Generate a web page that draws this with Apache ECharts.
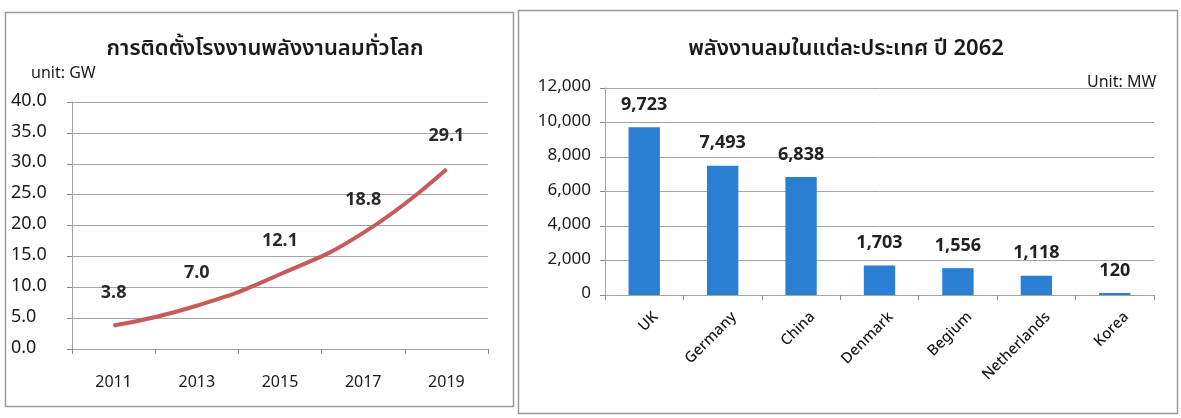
<!DOCTYPE html>
<html>
<head>
<meta charset="utf-8">
<script src="https://cdn.jsdelivr.net/npm/echarts@6/dist/echarts.min.js"></script>
<style>
html,body{margin:0;padding:0;background:#fff;}
#chart{width:1181px;height:418px;}
</style>
</head>
<body>
<div id="chart"></div>
<script>
// Left chart data (GW)
const years = ['2011', '2013', '2015', '2017', '2019'];
const installedGW = [3.8, 7.0, 12.1, 18.8, 29.1];
const gwTicks = ['0.0', '5.0', '10.0', '15.0', '20.0', '25.0', '30.0', '35.0', '40.0'];

// Right chart data (MW)
const countries = ['UK', 'Germany', 'China', 'Denmark', 'Begium', 'Netherlands', 'Korea'];
const countryMW = [9723, 7493, 6838, 1703, 1556, 1118, 120];

const FONT = '"Noto Sans Thai", "Leelawadee UI", Tahoma, "Open Sans", "Noto Sans", sans-serif';
const chart = echarts.init(document.getElementById('chart'), null, {renderer: 'canvas'});

const gridLine = {show: true, lineStyle: {color: '#a3a3a3', width: 1}};
const axisLine = {show: true, lineStyle: {color: '#a3a3a3', width: 1}};

chart.setOption({
  backgroundColor: '#ffffff',
  textStyle: {fontFamily: FONT},
  animation: false,
  graphic: [
    {type: 'rect', shape: {x: 5.5, y: 12.5, width: 508, height: 394}, style: {fill: 'none', stroke: '#9a9a9a', lineWidth: 1.5}, z: 0},
    {type: 'rect', shape: {x: 518.5, y: 10.5, width: 659, height: 403}, style: {fill: 'none', stroke: '#9a9a9a', lineWidth: 1.5}, z: 0}
  ],
  title: [
    {text: 'การติดตั้งโรงงานพลังงานลมทั่วโลก', left: 260, top: 35, textAlign: 'center',
     textStyle: {fontFamily: FONT, fontSize: 22, fontWeight: 600, color: '#1a1a1a'}},
    {text: 'unit: GW', left: 26, top: 62,
     textStyle: {fontFamily: FONT, fontSize: 16, fontWeight: 'normal', color: '#1a1a1a'}},
    {text: 'พลังงานลมในแต่ละประเทศ ปี 2062', left: 841, top: 35, textAlign: 'center',
     textStyle: {fontFamily: FONT, fontSize: 22, fontWeight: 600, color: '#1a1a1a'}},
    {text: 'Unit: MW', left: 1082, top: 71,
     textStyle: {fontFamily: FONT, fontSize: 16, fontWeight: 'normal', color: '#1a1a1a'}}
  ],
  grid: [
    {left: 72, right: 693, top: 102, bottom: 69},
    {left: 605, right: 27, top: 88, bottom: 123}
  ],
  xAxis: [
    {type: 'category', gridIndex: 0, data: years, boundaryGap: true,
     axisLine: axisLine,
     axisTick: {show: true, alignWithLabel: false, length: 5, lineStyle: {color: '#8a8a8a'}},
     axisLabel: {fontFamily: FONT, fontSize: 16, color: '#1a1a1a', margin: 27}},
    {type: 'category', gridIndex: 1, data: countries, boundaryGap: true,
     axisLine: axisLine,
     axisTick: {show: true, length: 5, lineStyle: {color: '#8a8a8a'}},
     axisLabel: {fontFamily: FONT, fontSize: 15, fontWeight: 500, color: '#1a1a1a', rotate: 45,
       verticalAlign: 'top', padding: [10, 0, 0, 0], margin: 8, interval: 0}}
  ],
  yAxis: [
    {type: 'value', gridIndex: 0, min: 0, max: 40, interval: 5,
     axisLine: axisLine,
     axisTick: {show: true, length: 5, lineStyle: {color: '#8a8a8a'}},
     splitLine: gridLine,
     axisLabel: {fontFamily: FONT, fontSize: 18, color: '#1a1a1a', align: 'left', margin: 61,
       formatter: (v) => gwTicks[Math.round(v / 5)]}},
    {type: 'value', gridIndex: 1, min: 0, max: 12000, interval: 2000,
     axisLine: axisLine,
     axisTick: {show: true, length: 5, lineStyle: {color: '#8a8a8a'}},
     splitLine: gridLine,
     axisLabel: {fontFamily: FONT, fontSize: 17, color: '#1a1a1a', margin: 14,
       formatter: (v) => v.toLocaleString('en-US')}}
  ],
  series: [
    {type: 'line', xAxisIndex: 0, yAxisIndex: 0, data: installedGW, smooth: true,
     symbol: 'circle', symbolSize: 1, showSymbol: true,
     itemStyle: {color: '#c85a5c'},
     lineStyle: {color: '#c85a5c', width: 4},
     label: {show: true, position: 'top', distance: 22, fontFamily: FONT, fontSize: 18,
       fontWeight: 'bold', color: '#2a2a2a', formatter: (p) => p.value.toFixed(1)}},
    {type: 'bar', xAxisIndex: 1, yAxisIndex: 1, data: countryMW, barWidth: '40%',
     itemStyle: {color: '#2b7fd3'},
     label: {show: true, position: 'top', distance: 12, fontFamily: FONT, fontSize: 18,
       fontWeight: 'bold', color: '#222', formatter: (p) => p.value.toLocaleString('en-US')}}
  ]
});
</script>
</body>
</html>
